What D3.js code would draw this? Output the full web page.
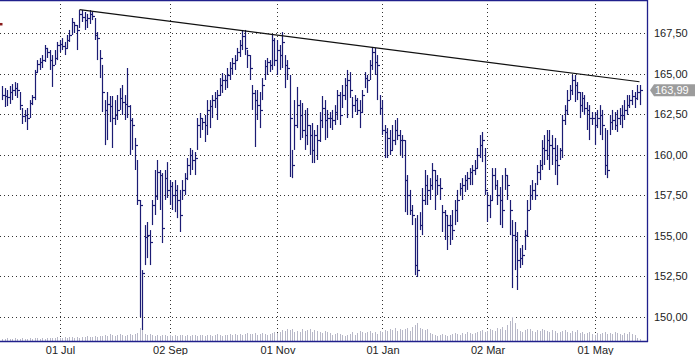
<!DOCTYPE html>
<html>
<head>
<meta charset="utf-8" />
<title>Price chart</title>
<style>
  body { margin: 0; background: #fff; }
  svg text { font-family: "Liberation Sans", Arial, sans-serif; font-size: 11px; }
</style>
</head>
<body>
<svg width="695" height="355"></svg>
<script src="https://cdnjs.cloudflare.com/ajax/libs/d3/7.8.5/d3.min.js"></script>
<script>

// daily bars, one per trading day
var high = [
  164.25,164.12,164.00,164.25,164.37,164.49,164.43,163.88,162.89,162.77,
  162.89,163.38,163.69,165.24,165.85,165.98,166.16,166.78,166.60,166.47,
  166.16,166.47,166.97,167.09,167.21,166.97,167.40,167.71,168.45,168.20,
  168.02,168.94,168.94,168.82,168.70,168.94,168.82,168.45,167.58,166.47,
  165.55,163.38,163.88,163.63,163.63,163.38,163.69,164.12,164.31,163.69,
  165.36,163.07,162.27,161.04,159.68,157.21,152.88,155.66,155.85,155.35,
  157.21,159.06,159.68,159.06,158.87,159.06,159.55,158.44,158.32,158.44,
  158.13,157.83,158.44,158.87,159.80,160.42,160.30,160.17,162.27,162.58,
  162.27,162.46,163.38,163.38,163.69,163.88,164.00,164.74,165.05,164.93,
  165.36,165.73,165.98,166.16,166.60,167.09,167.71,167.71,166.47,166.16,
  164.31,164.00,164.00,163.88,164.74,165.85,165.98,165.85,167.40,167.21,
  167.09,166.78,167.58,166.16,165.85,164.93,160.30,163.38,164.19,163.38,
  163.20,162.77,162.89,161.84,161.96,161.53,161.84,162.64,163.63,163.38,
  162.77,162.64,162.77,163.07,164.00,163.88,164.31,164.74,165.24,165.11,
  163.57,163.69,163.51,163.38,164.00,165.11,164.93,165.85,166.66,166.60,
  166.16,163.69,163.38,161.84,161.65,161.53,161.84,162.15,162.27,161.53,
  161.22,160.91,158.75,157.83,156.90,156.09,156.28,156.46,157.95,159.06,
  158.75,158.56,159.49,159.06,158.75,158.56,156.90,156.59,156.28,156.28,
  156.59,157.21,157.83,158.26,158.56,158.75,158.94,159.18,159.37,159.68,
  160.42,161.22,161.41,160.42,157.70,157.52,159.18,159.18,158.44,158.01,
  158.75,159.18,158.75,157.21,155.97,155.85,155.23,154.24,154.43,155.35,
  157.21,158.13,158.44,158.26,159.37,159.68,160.91,161.22,161.53,161.53,
  161.22,161.04,160.60,160.42,162.46,163.07,164.00,164.31,164.93,164.93,
  164.49,163.88,163.88,163.69,163.26,163.07,162.64,162.64,162.77,163.07,
  162.77,161.65,161.53,162.46,162.77,162.64,162.77,162.89,163.07,163.38,
  163.69,163.69,164.00,163.88,164.31,164.31
];
var low = [
  163.38,162.95,163.01,163.14,163.38,163.63,163.51,162.77,161.90,162.02,
  161.53,162.27,163.07,163.38,165.11,165.24,165.36,165.73,165.98,165.24,
  164.19,165.55,165.85,166.35,166.47,166.16,166.60,166.97,167.40,167.52,
  166.47,167.83,168.20,167.71,167.83,168.08,168.32,167.09,165.85,164.74,
  162.64,160.60,160.91,162.02,160.42,161.84,162.15,162.77,162.46,162.15,
  162.27,159.99,160.30,159.06,156.90,149.98,149.18,153.19,153.62,153.19,
  155.66,156.28,157.21,156.59,154.55,157.21,157.33,156.90,156.59,156.46,
  156.09,155.23,157.21,157.52,158.44,158.75,159.06,158.75,160.30,161.04,
  161.53,160.79,161.22,161.65,162.27,162.89,162.15,163.63,163.82,164.00,
  164.12,164.62,164.93,165.24,165.85,166.04,166.47,166.16,165.36,164.62,
  162.77,160.48,162.15,161.65,163.38,164.62,164.93,165.11,165.24,165.48,
  164.93,165.24,165.36,164.12,164.62,158.63,158.56,160.30,161.65,160.91,
  161.04,160.30,160.60,159.99,159.49,159.49,159.68,160.79,161.65,160.91,
  161.04,161.65,161.53,161.84,162.15,161.84,162.89,163.38,162.27,163.51,
  162.27,162.64,162.46,161.65,162.58,164.12,163.82,164.62,165.24,164.93,
  163.38,162.46,161.22,159.80,159.80,159.99,160.30,160.60,160.91,159.99,
  159.80,156.46,156.28,156.28,155.66,152.57,152.45,155.35,155.04,156.90,
  156.90,157.21,157.83,156.59,157.52,157.21,155.23,154.74,154.12,154.43,
  154.74,155.66,155.85,157.52,157.21,157.70,157.83,158.13,158.13,158.75,
  159.18,159.80,159.55,157.52,155.85,156.09,157.21,157.83,156.90,155.66,
  155.48,157.83,157.21,155.04,151.77,152.88,151.65,153.01,153.19,154.12,
  154.92,156.59,157.21,157.21,158.13,158.44,159.06,159.37,159.68,159.06,
  159.37,158.75,158.13,159.68,159.80,161.84,162.46,163.38,163.69,163.26,
  163.38,162.27,162.64,162.46,161.53,160.91,161.84,160.60,161.65,161.22,
  160.91,158.75,158.56,161.22,161.53,161.53,161.41,161.84,161.65,162.15,
  162.46,162.89,163.07,162.89,163.38,163.07
];
var close = [
  163.69,163.63,163.57,163.88,164.00,164.12,164.00,163.07,162.39,162.46,
  162.27,163.20,163.57,165.11,165.61,165.73,165.85,166.60,166.35,165.85,
  165.55,165.98,166.78,166.84,166.72,166.60,167.09,167.40,168.20,168.02,
  167.71,168.70,168.51,168.32,168.45,168.70,168.57,167.40,167.21,165.98,
  163.88,162.77,163.14,163.01,162.27,162.46,162.77,163.51,163.26,163.14,
  163.01,162.15,161.84,160.60,157.21,156.90,152.70,154.92,155.04,154.61,
  156.90,157.45,158.94,158.75,155.48,158.56,157.83,158.07,157.52,157.83,
  157.21,156.28,157.83,158.56,159.37,159.99,159.68,159.80,161.84,162.27,
  162.02,161.84,162.77,163.01,163.38,163.51,163.69,164.31,164.62,164.62,
  164.93,165.36,165.67,165.85,166.35,166.78,167.34,166.60,166.16,165.36,
  163.82,163.38,163.07,162.77,164.31,165.48,165.73,165.55,167.09,165.85,
  166.47,166.16,166.97,165.55,165.36,162.27,159.37,161.84,163.07,162.46,
  161.53,161.22,161.84,161.22,160.30,161.22,160.91,162.15,162.89,162.15,
  162.27,162.27,162.15,162.64,163.69,162.46,163.69,164.31,164.62,164.00,
  163.07,163.38,162.77,162.64,163.69,164.74,164.62,165.55,166.35,165.73,
  165.55,162.89,161.53,161.41,161.04,160.30,160.91,161.53,161.22,160.91,
  160.91,158.44,157.52,156.59,156.28,153.19,152.88,155.66,157.21,158.13,
  157.83,158.13,159.06,158.44,158.13,157.95,156.46,156.28,155.66,155.66,
  155.35,156.59,157.21,157.95,158.13,158.44,158.56,158.94,159.06,159.18,
  159.99,160.60,160.91,157.83,156.90,157.21,158.75,158.13,157.52,157.21,
  156.59,158.75,158.13,156.59,155.04,154.74,153.50,153.62,153.81,155.04,
  156.59,157.52,157.83,157.52,158.94,159.37,160.42,160.30,160.91,160.60,
  160.42,159.68,159.37,160.30,162.15,162.77,163.38,164.00,164.62,164.31,
  163.88,163.07,163.51,162.89,162.77,162.27,162.27,161.84,162.27,162.46,
  161.84,159.37,159.06,162.02,162.15,161.84,162.27,162.46,162.46,162.77,
  163.07,163.38,163.63,163.51,163.88,163.99
];
var volume = [
  2,2,3,2,2,3,2,2,3,2, 2,3,2,3,3,2,3,2,3,3,
  3,3,4,3,3,4,3,4,4,3, 4,3,4,4,5,4,4,5,4,5,
  5,6,5,7,6,5,6,7,6,5, 6,7,6,7,8,
  13,11,7,6,7,
  6,5,6,5,6,6,5,6,5,6, 5,6,6,5,6,5,6,6,5,6,
  6,5,6,6,5,6,7,6,5,6, 6,7,6,7,6,7,6,7,8,7,
  7,8,6,7,8,7,6,7,8,9,8,
  9,11,10,12,11,12,9,10,9,12, 10,11,12,9,11,10,9,8,10,9,
  8,6,7,8,7,6,5,6,7,9, 6,8,10,9,8,9,10,8,9,7,
  10,9,11,10,12,11,13,10,12,11, 12,13,10,14,16,18,13,12,11,12,
  8,7,6,5,6,7,6,5,6,7, 8,7,6,8,7,9,8,7,8,9,
  10,11,9,10,12,11,10,13,12,14, 11,16,20,24,18,12,10,9,11,12,
  12,10,9,11,10,12,11,10,9,11, 10,8,9,10,11,9,8,10,9,11,
  8,9,7,8,9,7,6,8,7,8, 9,7,8,7,9,8,7,6,8,7, 9,7,6,3,2
];

var monthIdx = [23, 67, 110, 152, 194, 237];
var monthLabels = ['01 Jul', '02 Sep', '01 Nov', '01 Jan', '02 Mar', '01 May'];
var priceTicks = [150, 152.5, 155, 157.5, 160, 162.5, 165, 167.5];
var trendIdx = [31, 255];
var trendVal = [168.97, 164.51];
var markerVal = 168.08;

var plotW = 648, plotH = 341;
var svg = d3.select('svg');

var x = d3.scaleLinear().domain([0, high.length - 1]).range([2, 639.5]);
var y = d3.scaleLinear().domain([148.5, 169.56]).range([plotH, 0]);
var v = d3.scaleLinear().domain([0, 30]).range([0, 30]);

function px(i) { return Math.round(x(i)) + 0.5; }
function py(p) { return Math.round(y(p)) + 0.5; }
var comma = function (d) { return d3.format('.2f')(d).replace('.', ','); };

// grid
var grid = svg.append('g').attr('stroke', '#333').attr('stroke-dasharray', '1,3');
grid.selectAll('line.h').data(priceTicks).enter().append('line')
    .attr('x1', 0).attr('x2', plotW)
    .attr('y1', py).attr('y2', py);
grid.selectAll('line.v').data(monthIdx).enter().append('line')
    .attr('x1', px).attr('x2', px)
    .attr('y1', 0).attr('y2', plotH);

// volume
svg.append('g').attr('stroke', '#b8b8c8').attr('stroke-width', 1)
    .selectAll('line').data(volume).enter().append('line')
    .attr('x1', function (d, i) { return px(i); })
    .attr('x2', function (d, i) { return px(i); })
    .attr('y1', plotH)
    .attr('y2', function (d) { return plotH - v(d); });

// price bars
var bars = svg.append('g').attr('stroke', '#1c1c74').attr('stroke-width', 1.2);
bars.selectAll('line.hl').data(high).enter().append('line')
    .attr('x1', function (d, i) { return px(i); })
    .attr('x2', function (d, i) { return px(i); })
    .attr('y1', function (d) { return y(d); })
    .attr('y2', function (d, i) { return y(low[i]); });
bars.selectAll('line.c').data(close).enter().append('line')
    .attr('x1', function (d, i) { return px(i); })
    .attr('x2', function (d, i) { return px(i) + 2.5; })
    .attr('y1', py).attr('y2', py);

// trend line over the highs
svg.append('line')
    .attr('x1', x(trendIdx[0])).attr('y1', y(trendVal[0]))
    .attr('x2', x(trendIdx[1])).attr('y2', y(trendVal[1]))
    .attr('stroke', '#111').attr('stroke-width', 1.2);

svg.append('rect').attr('x', 0).attr('y', y(markerVal) - 1)
    .attr('width', 2.5).attr('height', 2.5).attr('fill', '#8a1c1c');

// frame
var frame = svg.append('g').attr('stroke', '#20208c').attr('stroke-width', 1.3);
frame.append('line').attr('x1', 0).attr('x2', plotW).attr('y1', 0.5).attr('y2', 0.5);
frame.append('line').attr('x1', plotW - 0.5).attr('x2', plotW - 0.5).attr('y1', 0).attr('y2', plotH + 1);
frame.append('line').attr('x1', 0).attr('x2', plotW).attr('y1', plotH + 0.5).attr('y2', plotH + 0.5);

// axes
var yAxis = d3.axisRight(y).tickValues(priceTicks).tickFormat(comma).tickSize(0).tickPadding(6);
svg.append('g').attr('transform', 'translate(' + plotW + ',0)').call(yAxis)
    .call(function (g) { g.select('.domain').remove(); })
    .selectAll('text').attr('fill', '#222').style('font-size', '11px');

var xAxis = d3.axisBottom(x).tickValues(monthIdx)
    .tickFormat(function (d, i) { return monthLabels[i]; }).tickSize(0).tickPadding(4);
svg.append('g').attr('transform', 'translate(0.5,' + (plotH + 1) + ')').call(xAxis)
    .call(function (g) { g.select('.domain').remove(); })
    .selectAll('text').attr('fill', '#222').style('font-size', '11px');

// last price tag
var last = close[close.length - 1];
var ty = y(last);
svg.append('path')
    .attr('d', 'M650,' + ty + 'L654,' + (ty - 6) + 'L695,' + (ty - 6) + 'L695,' + (ty + 6) + 'L654,' + (ty + 6) + 'Z')
    .attr('fill', '#9c9c9c');
svg.append('text').attr('x', 655).attr('y', ty + 4)
    .attr('fill', '#fff').text(comma(last));

</script>
</body>
</html>
